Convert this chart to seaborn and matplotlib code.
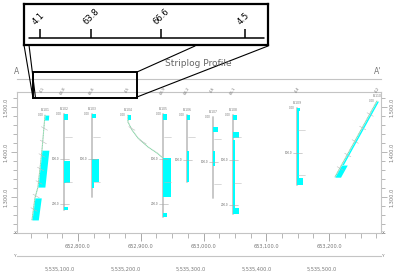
import numpy as np
import pandas as pd
import matplotlib
matplotlib.use("Agg")
import matplotlib.pyplot as plt
import seaborn as sns
from matplotlib.ticker import MultipleLocator, FuncFormatter, FixedLocator
from matplotlib.patches import Rectangle

sns.set_style("white")
plt.rcParams['font.family'] = ['DejaVu Sans']

W, H = 399, 272

# ---------------- data ----------------
well_names = ["B-101", "B-102", "B-103", "B-104", "B-105",
              "B-106", "B-107", "B-108", "B-109", "B-110"]
# well paths: (easting, elevation) survey points
path_b101 = [(652747.5, 1482.2), (652742.7, 1404.4), (652736.3, 1322.2), (652731.5, 1297.8), (652726.8, 1248.9)]
path_b102 = [(652777.7, 1484.4), (652777.7, 1271.1)]
path_b103 = [(652822.3, 1484.4), (652822.3, 1300.0)]
path_b104 = [(652879.6, 1482.2), (652879.6, 1466.7), (652886.0, 1448.9), (652895.5, 1431.1),
             (652911.5, 1411.1), (652925.8, 1397.8), (652935.4, 1386.7)]
path_b105 = [(652935.4, 1484.4), (652935.4, 1255.6)]
path_b106 = [(652973.6, 1482.2), (652973.6, 1333.3)]
path_b107 = [(653015.0, 1477.8), (653015.0, 1297.8)]
path_b108 = [(653046.8, 1482.2), (653046.8, 1262.2)]
path_b109 = [(653148.7, 1497.8), (653148.7, 1326.7)]
path_b110 = [(653276.1, 1513.3), (653209.2, 1344.4)]
well_paths = [path_b101, path_b102, path_b103, path_b104, path_b105,
              path_b106, path_b107, path_b108, path_b109, path_b110]
deviated = [True, False, False, True, False, False, False, False, False, True]

# log intervals: (top elevation, bottom elevation, log value shown as width in m)
iv_b101 = [(1482, 1471, 6), (1404, 1322, 11), (1298, 1249, 10)]
iv_b102 = [(1484, 1471, 7), (1380, 1331, 10), (1278, 1271, 6)]
iv_b103 = [(1484, 1475, 6), (1384, 1333, 11), (1333, 1320, 3)]
iv_b104 = [(1482, 1471, 5)]
iv_b105 = [(1484, 1471, 7), (1387, 1300, 12), (1264, 1256, 6)]
iv_b106 = [(1482, 1471, 5), (1402, 1333, 3)]
iv_b107 = [(1456, 1444, 8), (1402, 1369, 3)]
iv_b108 = [(1482, 1471, 6), (1444, 1431, 10), (1427, 1276, 3), (1276, 1262, 10)]
iv_b109 = [(1498, 1491, 5), (1491, 1342, 3), (1342, 1327, 10)]
iv_b110 = [(1513, 1372, 2.5), (1371, 1344, 9)]
intervals = [iv_b101, iv_b102, iv_b103, iv_b104, iv_b105,
             iv_b106, iv_b107, iv_b108, iv_b109, iv_b110]

# profile stations (easting) and their labels
station_e = [652742.7, 652776.1, 652822.3, 652878.0, 652935.4,
             652973.6, 653013.4, 653046.8, 653148.7, 653276.1]
station_lbl = ["4.1", "63.8", "66.6", "4.5", "63.9", "64.2", "4.6", "66.1", "4.4", "4.2"]

elev_ticks_major = 100
x_lim = (652702.9, 653282.5)
z_lim = (1220.0, 1533.3)
n_lim = (5535034.4, 5535590.1)
inset_lim = (652732.1, 652893.2)

GRAY = "#9a9a9a"
LGRAY = "#c4c4c4"
CYAN = "#00ffff"
GREEN = "#70e6a0"

fig = plt.figure(figsize=(W / 100, H / 100), dpi=100)


def px_rect(x0, y0, x1, y1):
    return [x0 / W, 1 - y1 / H, (x1 - x0) / W, (y1 - y0) / H]


fmt = FuncFormatter(lambda v, p: f"{v:,.1f}")

# ---------------- main section ----------------
ax = fig.add_axes(px_rect(17, 92, 381, 233))
ax.set_xlim(*x_lim)
ax.set_ylim(*z_lim)
for s in ax.spines.values():
    s.set_color(LGRAY)
    s.set_linewidth(0.8)

rows = []
for name, pth in zip(well_names, well_paths):
    for i, (e, z) in enumerate(pth):
        rows.append({"well": name, "easting": e, "elev": z, "i": i})
df = pd.DataFrame(rows)
dev_names = [n for n, d in zip(well_names, deviated) if d]
sns.lineplot(data=df[~df.well.isin(dev_names)], x="easting", y="elev", units="well",
             estimator=None, sort=False, color=LGRAY, lw=1.3, ax=ax, legend=False)
sns.lineplot(data=df[df.well.isin(dev_names)], x="easting", y="elev", units="well",
             estimator=None, sort=False, color="#d5d5d5", lw=0.8, ax=ax, legend=False)
sns.lineplot(data=df[df.well.isin(dev_names)], x="easting", y="elev", units="well",
             estimator=None, sort=False, color=GREEN, lw=0.6, ls=(0, (1.2, 0.8)),
             ax=ax, legend=False)

for name, pth, ivs, dev in zip(well_names, well_paths, intervals, deviated):
    pe = np.array([p[0] for p in pth])
    pz = np.array([p[1] for p in pth])
    order = np.argsort(pz)
    for top, bot, w in ivs:
        z = np.linspace(bot, top, 30)
        x = np.interp(z, pz[order], pe[order])
        ax.fill_betweenx(z, x, x + w, color=CYAN, lw=0, zorder=3)
    # well name and collar label
    ax.text(pe[0], pz[0] + 6, name, fontsize=2.2, color="#777", ha="center", va="bottom")
    ax.text(pe[0] - 3, pz[0], "0.00", fontsize=2.0, color="#777", ha="right", va="center")
    if not dev:
        depth = 50
        while pz[0] - depth > pz[-1]:
            zz = pz[0] - depth
            if depth % 100 == 0:
                ax.plot([pe[0] - 6, pe[0] + 8], [zz, zz], color="#aaa", lw=0.4, zorder=4)
                ax.text(pe[0] - 7, zz, f"{depth:.1f}", fontsize=2.0, color="#666",
                        ha="right", va="center")
            else:
                ax.plot([pe[0] + 2, pe[0] + 12], [zz, zz], color="#bbb", lw=0.4, zorder=4)
            depth += 50
    else:
        zz = pz[0] - 30
        while zz > pz[-1] + 10:
            xx = np.interp(zz, pz[order], pe[order])
            ax.plot([xx - 4, xx + 6], [zz + 4, zz - 4], color="#bbb", lw=0.4, zorder=4)
            zz -= 30

ax.set_xlabel("")
ax.set_ylabel("")
ax.xaxis.set_major_locator(MultipleLocator(100))
ax.xaxis.set_minor_locator(MultipleLocator(25))
ax.yaxis.set_major_locator(MultipleLocator(elev_ticks_major))
ax.yaxis.set_minor_locator(MultipleLocator(20))
ax.xaxis.set_major_formatter(fmt)
ax.yaxis.set_major_formatter(fmt)
ax.tick_params(axis="x", which="major", direction="out", length=6, width=0.6, color=GRAY,
               labelsize=3.6, labelcolor="#777", pad=2, bottom=True, top=False)
ax.tick_params(axis="x", which="minor", direction="out", length=3.5, width=0.5, color=GRAY,
               bottom=True, top=False)
ax.tick_params(axis="y", which="both", direction="out", width=0.5, color=GRAY,
               left=True, right=True, labelleft=True, labelright=True,
               labelsize=3.6, labelcolor="#777", pad=2)
ax.tick_params(axis="y", which="major", length=4)
ax.tick_params(axis="y", which="minor", length=3)
for lbl in ax.get_yticklabels():
    lbl.set_rotation(90)
    lbl.set_va("center")

# ---------------- northing axis ----------------
axn = fig.add_axes(px_rect(17, 255, 381, 256))
axn.set_xlim(*n_lim)
axn.set_yticks([])
for k in ["left", "right", "top"]:
    axn.spines[k].set_visible(False)
axn.spines["bottom"].set_color(LGRAY)
axn.spines["bottom"].set_linewidth(0.8)
axn.patch.set_alpha(0)
axn.xaxis.set_major_locator(MultipleLocator(100))
axn.xaxis.set_minor_locator(MultipleLocator(25))
axn.xaxis.set_major_formatter(fmt)
axn.tick_params(axis="x", which="major", direction="out", length=6, width=0.6, color=GRAY,
                labelsize=3.6, labelcolor="#777", pad=2)
axn.tick_params(axis="x", which="minor", direction="out", length=3.5, width=0.5, color=GRAY)

# ---------------- profile line ----------------
axp = fig.add_axes(px_rect(17, 78, 381, 79))
axp.set_xlim(*x_lim)
axp.set_yticks([])
for k in ["left", "right", "top"]:
    axp.spines[k].set_visible(False)
axp.spines["bottom"].set_color(LGRAY)
axp.spines["bottom"].set_linewidth(0.8)
axp.patch.set_alpha(0)
axp.xaxis.set_major_locator(FixedLocator(station_e))
axp.set_xticklabels(station_lbl)
axp.tick_params(axis="x", direction="out", length=4, width=0.5, color=GRAY,
                labelsize=2.8, labelcolor="#777", pad=1)
for lbl in axp.get_xticklabels():
    lbl.set_rotation(60)
    lbl.set_ha("right")
    lbl.set_rotation_mode("anchor")

# ---------------- inset ----------------
axi = fig.add_axes(px_rect(24, 4, 268, 45))
axi.set_xlim(*inset_lim)
axi.set_ylim(0, 1)
axi.set_xticks([])
axi.set_yticks([])
for s in axi.spines.values():
    s.set_color("black")
    s.set_linewidth(1.6)
axi.axhline(0.17, xmin=5 / 244, xmax=240 / 244, color="black", lw=1.1)
in_e = [e for e in station_e if inset_lim[0] < e < inset_lim[1]]
in_l = [l for e, l in zip(station_e, station_lbl) if inset_lim[0] < e < inset_lim[1]]
axi.vlines(in_e, 0.17, 0.39, color="black", lw=1.1)
for e, l in zip(in_e, in_l):
    axi.text(e - 2.0, 0.46, l, rotation=45, rotation_mode="anchor", ha="left", va="bottom",
             fontsize=6.0, color="black")

# ---------------- overlay decorations ----------------
ov = fig.add_axes([0, 0, 1, 1], zorder=10)
ov.set_xlim(0, W)
ov.set_ylim(H, 0)
ov.axis("off")
ov.patch.set_alpha(0)
ov.add_patch(Rectangle((33, 72), 104, 26, fill=False, ec="black", lw=1.4))
ov.plot([24, 33], [45, 98], color="black", lw=0.8)
ov.plot([29, 35.5], [45, 98], color="black", lw=0.8)
ov.plot([195, 137], [46, 72], color="black", lw=0.8)
ov.plot([268, 137], [46, 97], color="black", lw=0.8)
ov.text(198, 63, "Striplog Profile", fontsize=6.5, color="#666", ha="center", va="center")
ov.text(17, 72, "A", fontsize=5.5, color="#777", ha="center", va="center")
ov.text(378, 72, "A'", fontsize=5.5, color="#777", ha="center", va="center")
ov.text(15, 233, "X", fontsize=3.2, color="#777", ha="center", va="center")
ov.text(383, 233, "X", fontsize=3.2, color="#777", ha="center", va="center")
ov.text(15, 256, "Y", fontsize=3.2, color="#777", ha="center", va="center")
ov.text(383, 256, "Y", fontsize=3.2, color="#777", ha="center", va="center")

fig.savefig("out.png", dpi=100)
